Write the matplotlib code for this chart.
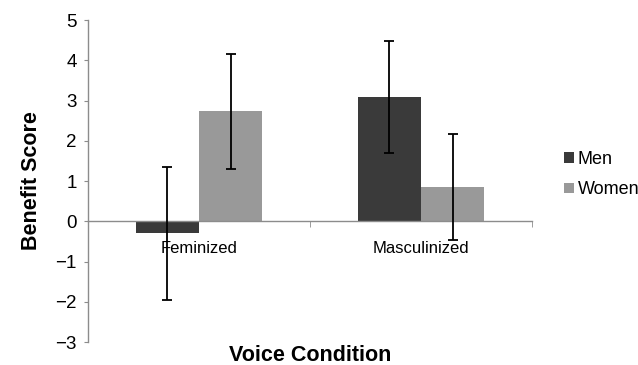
import numpy as np
import matplotlib
matplotlib.use('Agg')
import matplotlib.pyplot as plt
from matplotlib.ticker import FixedLocator

plt.rcParams['font.family'] = ['Liberation Sans', 'DejaVu Sans']

# Data
conditions = ['Feminized', 'Masculinized']
groups = ['Men', 'Women']
men_scores = [-0.30, 3.09]
women_scores = [2.73, 0.85]
men_err = [1.66, 1.40]
women_err = [1.43, 1.32]

colors = {'Men': '#3a3a3a', 'Women': '#999999'}
axis_grey = '#8c8c8c'

fig = plt.figure(figsize=(6.38, 3.65), dpi=100)
ax = fig.add_axes([0.138, 0.063, 0.696, 0.882])

x = np.arange(len(conditions))
width = 0.285

ax.bar(x - width / 2, men_scores, width, color=colors['Men'], label='Men', zorder=2)
ax.bar(x + width / 2, women_scores, width, color=colors['Women'], label='Women', zorder=2)
ax.errorbar(x - width / 2, men_scores, yerr=men_err, fmt='none', ecolor='black',
            elinewidth=1.3, capsize=3.5, capthick=1.3, zorder=3)
ax.errorbar(x + width / 2, women_scores, yerr=women_err, fmt='none', ecolor='black',
            elinewidth=1.3, capsize=3.5, capthick=1.3, zorder=3)

ax.set_xlim(-0.5, 1.5)
ax.set_ylim(-3, 5)
ax.set_yticks(range(-3, 6))
ax.tick_params(axis='y', direction='out', length=3, color=axis_grey,
               labelsize=13.5, pad=5)

ax.set_xticks(x)
ax.set_xticklabels(conditions)
ax.tick_params(axis='x', which='major', length=0, pad=14, labelsize=12)
ax.xaxis.set_minor_locator(FixedLocator([0.5, 1.5]))
ax.tick_params(axis='x', which='minor', direction='out', length=4, color=axis_grey)
for lbl in ax.get_xticklabels():
    lbl.set_fontfamily(['Lato', 'DejaVu Sans'])

ax.spines['top'].set_visible(False)
ax.spines['right'].set_visible(False)
ax.spines['bottom'].set_position(('data', 0))
for side in ('left', 'bottom'):
    ax.spines[side].set_color(axis_grey)
    ax.spines[side].set_linewidth(1.0)

ax.set_ylabel('Benefit Score', fontsize=15.5, fontweight='bold', labelpad=10)
fig.text(0.486, 0.027, 'Voice Condition', fontsize=15.5, fontweight='bold',
         ha='center', va='center')

ax.legend(loc='center left', bbox_to_anchor=(1.035, 0.52), frameon=False,
          fontsize=13, handlelength=0.55, handleheight=0.55, handletextpad=0.2,
          labelspacing=0.75)

fig.savefig('out.png', dpi=100)
